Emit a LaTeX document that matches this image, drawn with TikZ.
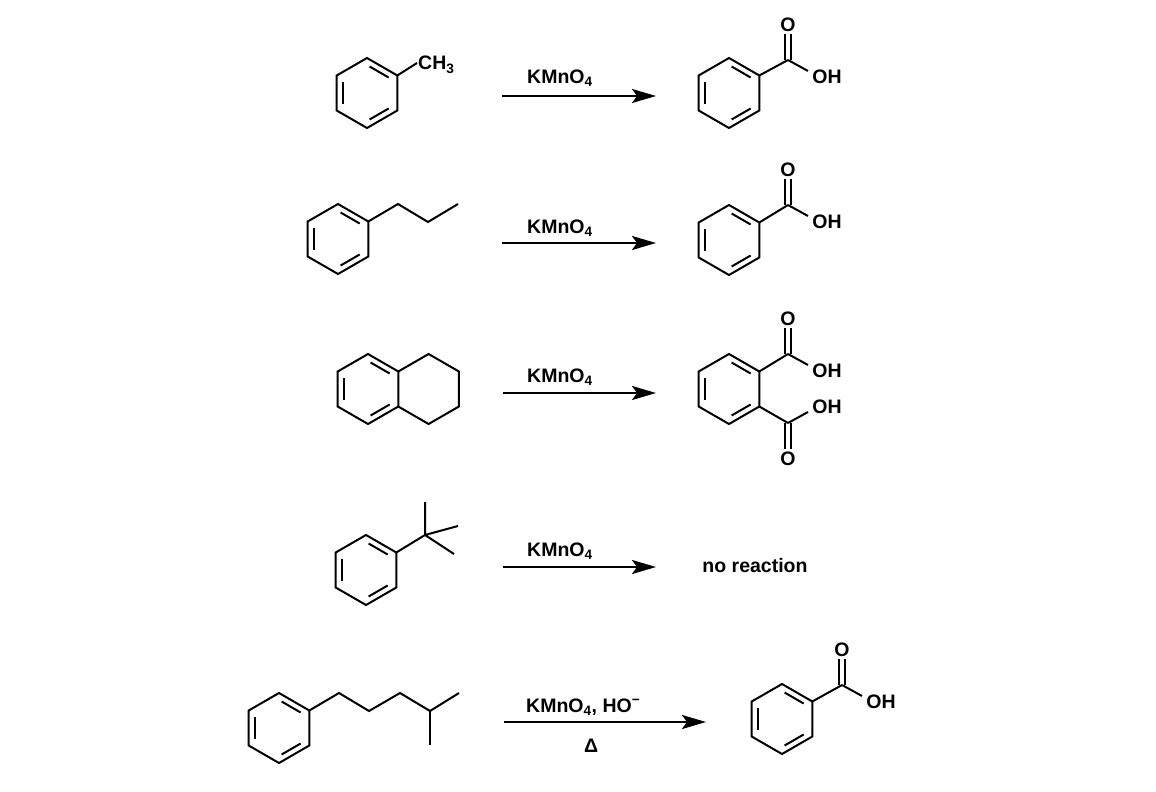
\documentclass[tikz,border=0pt]{standalone}
\usepackage{fontspec}
\setmainfont{Liberation Sans}
\usetikzlibrary{arrows.meta,calc}
\tikzset{
  bond/.style={line width=2pt,line join=miter},
  inner/.style={line width=2pt,shorten <=3pt,shorten >=3pt},
  rxn/.style={line width=2.4pt,-{Stealth[length=24pt,width=14pt,inset=5pt]}},
  lbl/.style={font=\bfseries\fontsize{19.5}{22}\selectfont,inner sep=0pt},
}
\newcommand\benzring[2]{%
  \begin{scope}[shift={(#1,#2)}]
    \draw[bond] (270:35)--(330:35)--(30:35)--(90:35)--(150:35)--(210:35)--cycle;
    \draw[inner] (270:28)--(330:28);
    \draw[inner] (150:28)--(210:28);
    \draw[inner] (90:28)--(30:28);
  \end{scope}}
% carboxyl: C at (#1,#2), up
\newcommand\coohup[3]{%
  \draw[bond] (#1-3,#2)--(#1-3,#2-26) (#1+3,#2)--(#1+3,#2-26);
  \draw[bond] (#1,#2)--(#1+20,#2+11);
  \node[lbl] (#3o) at (#1,#2-35) {O};
  \node[lbl] (#3oh) at (#1+39,#2+17) {OH};}
\newcommand\coohdown[3]{%
  \draw[bond] (#1-3,#2)--(#1-3,#2+26) (#1+3,#2)--(#1+3,#2+26);
  \draw[bond] (#1,#2)--(#1+20,#2-11);
  \node[lbl] (#3o) at (#1,#2+36) {O};
  \node[lbl] (#3oh) at (#1+39,#2-16) {OH};}
\begin{document}
\begin{tikzpicture}[x=1pt,y=-1pt]
\useasboundingbox[fill=white] (0,0) rectangle (1156,792);
% ---------- row 1
\benzring{367}{93}
\draw[bond] (397.3,75.5)--(417,63);
\node[lbl,anchor=base west] (ch3) at (418,70) {CH\textsubscript{3}};
\coordinate (a1s) at (502,96); \coordinate (a1e) at (656,96);
\draw[rxn] (a1s)--(a1e);
\node[lbl,anchor=base west] (r1) at (527,83) {KMnO\textsubscript{4}};
\benzring{729}{93}
\draw[bond] (759.3,75.5)--(788,60);
\coohup{788}{60}{p1}
% ---------- row 2
\benzring{338}{239}
\draw[bond] (368.3,221.5)--(398,204)--(428,222)--(458,204);
\coordinate (a2s) at (502,243); \coordinate (a2e) at (656,243);
\draw[rxn] (a2s)--(a2e);
\node[lbl,anchor=base west] (r2) at (527,233) {KMnO\textsubscript{4}};
\benzring{729}{240}
\draw[bond] (759.3,222.5)--(788,205);
\coohup{788}{205}{p2}
% ---------- row 3
\benzring{368}{389}
\begin{scope}[shift={(428.6,389)}]
\draw[bond] (210:35)--(270:35)--(330:35)--(30:35)--(90:35)--(150:35);
\end{scope}
\coordinate (a3s) at (503,393); \coordinate (a3e) at (656,393);
\draw[rxn] (a3s)--(a3e);
\node[lbl,anchor=base west] (r3) at (527,382) {KMnO\textsubscript{4}};
\benzring{729}{389}
\draw[bond] (759.3,371.5)--(788,354);
\draw[bond] (759.3,406.5)--(788,423);
\coohup{788}{354}{p3a}
\coohdown{788}{423}{p3b}
% ---------- row 4
\benzring{366}{570}
\draw[bond] (396.3,552.5)--(425,535);
\draw[bond] (425,535)--(425,502) (425,535)--(458,526) (425,535)--(454,554);
\coordinate (a4s) at (503,567); \coordinate (a4e) at (656,567);
\draw[rxn] (a4s)--(a4e);
\node[lbl,anchor=base west] (r4) at (527,556) {KMnO\textsubscript{4}};
\node[lbl] (nr) at (755,566) {no reaction};
% ---------- row 5
\benzring{279}{728}
\draw[bond] (309.3,710.5)--(339,693)--(369,711)--(400,693)--(430,711)--(459,693);
\draw[bond] (430,711)--(430,745);
\coordinate (a5s) at (504,722); \coordinate (a5e) at (706,722);
\draw[rxn] (a5s)--(a5e);
\node[lbl,anchor=base west] (r5) at (526,712) {KMnO\textsubscript{4}, HO\textsuperscript{−}};
\node[lbl,anchor=base] (r5b) at (591,752) {Δ};
\benzring{782}{719}
\draw[bond] (812.3,701.5)--(842,685);
\coohup{842}{685}{p5}
\end{tikzpicture}
\end{document}
